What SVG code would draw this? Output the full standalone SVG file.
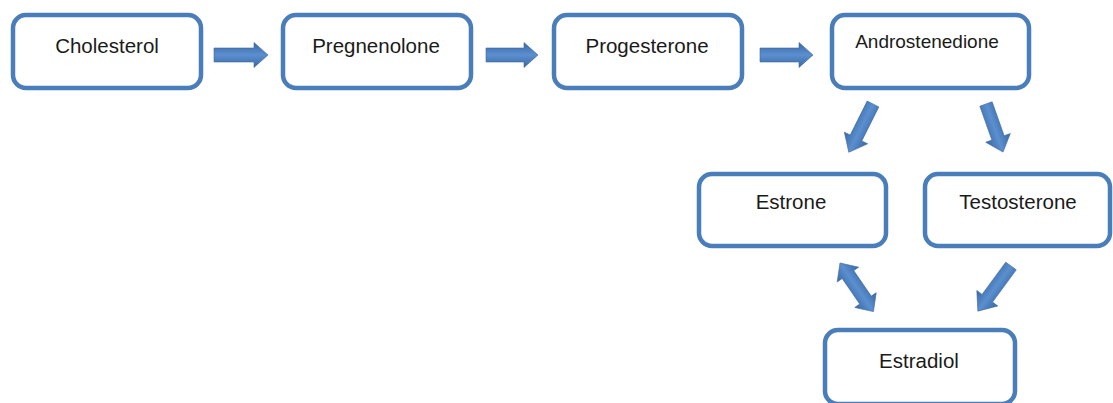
<svg xmlns="http://www.w3.org/2000/svg" width="1113" height="403" viewBox="0 0 1113 403">
<style>
.box{fill:#fff;stroke:#4a7ebb;stroke-width:4.5}
.lbl{font-family:"Liberation Sans",Arial,sans-serif;font-size:20.5px;fill:#1a1a1a;text-anchor:middle}
.arr{fill:url(#g);stroke:#3d6aa0;stroke-width:0.6}
</style>
<defs>
<linearGradient id="g" x1="0" y1="0" x2="0" y2="1" gradientUnits="objectBoundingBox">
<stop offset="0" stop-color="#3a68a3"/>
<stop offset="0.5" stop-color="#5b8fcf"/>
<stop offset="1" stop-color="#3a68a3"/>
</linearGradient>
</defs>
<g id="cholesterol"><rect class="box" x="13" y="15" width="188" height="73" rx="13"/><text class="lbl" x="107" y="53">Cholesterol</text></g>
<g id="pregnenolone"><rect class="box" x="283" y="15" width="188" height="73" rx="13"/><text class="lbl" x="376" y="53">Pregnenolone</text></g>
<g id="progesterone"><rect class="box" x="554" y="15" width="188" height="73" rx="13"/><text class="lbl" x="647" y="53">Progesterone</text></g>
<g id="androstenedione"><rect class="box" x="832" y="15" width="197" height="73" rx="13"/><text class="lbl" x="927" y="48" style="font-size:19px">Androstenedione</text></g>
<g id="estrone"><rect class="box" x="699" y="174" width="187" height="72" rx="13"/><text class="lbl" x="791" y="209">Estrone</text></g>
<g id="testosterone"><rect class="box" x="925" y="174" width="185" height="72" rx="13"/><text class="lbl" x="1018" y="209">Testosterone</text></g>
<g id="estradiol"><rect class="box" x="825" y="330" width="190" height="74" rx="13"/><text class="lbl" x="919" y="368">Estradiol</text></g>
<g id="connectors">
<polygon class="arr" transform="translate(214,55)" points="0,-7 40,-7 40,-12.5 54,0 40,12.5 40,7 0,7"/>
<polygon class="arr" transform="translate(486,55)" points="0,-7 38,-7 38,-12.5 52,0 38,12.5 38,7 0,7"/>
<polygon class="arr" transform="translate(760,55)" points="0,-7 39,-7 39,-12.5 53,0 39,12.5 39,7 0,7"/>
<polygon class="arr" transform="translate(873,104) rotate(116.6)" points="0,-6.5 38,-6.5 38,-13 54,0 38,13 38,6.5 0,6.5"/>
<polygon class="arr" transform="translate(986,104) rotate(70.5)" points="0,-6.5 36,-6.5 36,-13 51,0 36,13 36,6.5 0,6.5"/>
<polygon class="arr" transform="translate(1011,266) rotate(126.3)" points="0,-6.5 40,-6.5 40,-13 56,0 40,13 40,6.5 0,6.5"/>
<polygon class="arr" transform="translate(840,263) rotate(55.5)" points="0,0 14,-13 14,-7 45,-7 45,-13 59,0 45,13 45,7 14,7 14,13"/>
</g>
</svg>
